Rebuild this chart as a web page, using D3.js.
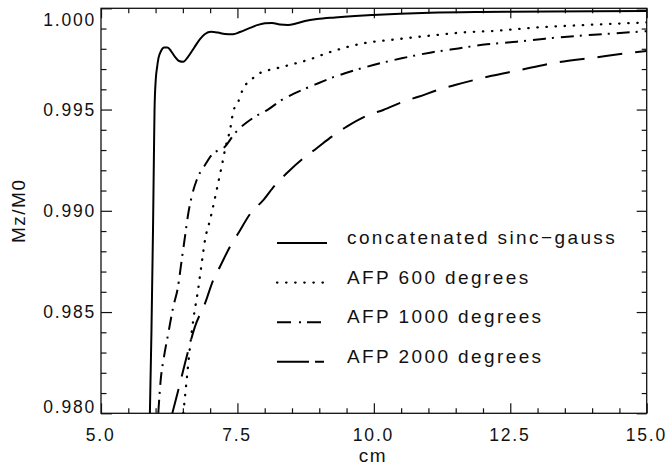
<!DOCTYPE html>
<html><head><meta charset="utf-8">
<script src="https://cdn.jsdelivr.net/npm/d3@7"></script>
<style>
html,body{margin:0;padding:0;background:#fff;}
svg{display:block;font-family:"Liberation Sans",Arial,Helvetica,sans-serif;}
</style></head><body>
<svg id="chart" width="669" height="465"></svg>
<script>
// ---------- data ----------
const xTicks = [5.0, 7.5, 10.0, 12.5, 15.0];
const yTicks = [0.980, 0.985, 0.990, 0.995, 1.000];
const xLabel = "cm";
const yLabel = "Mz/M0";
const seriesNames = ["concatenated sinc\u2212gauss", "AFP 600 degrees", "AFP 1000 degrees", "AFP 2000 degrees"];

const sincGaussX = [5.896,5.925,5.953,5.971,5.981,6.003,6.026,6.054,6.10,6.155,6.219,6.283,6.356,6.429,6.508,6.594,6.704,6.814,6.906,7.016,7.144,7.272,7.419,7.547,7.73,7.877,8.005,8.134,8.28,8.427,8.573,8.738,8.958,9.288,9.655,9.984,10.479,11.029,11.945,13.228,15.0];
const sincGaussY = [0.98000,0.98411,0.98905,0.99300,0.99498,0.99646,0.99705,0.99755,0.99789,0.99806,0.99806,0.99789,0.99760,0.99740,0.99736,0.99760,0.99804,0.99848,0.99873,0.99884,0.99880,0.99873,0.99872,0.99883,0.99903,0.99918,0.99926,0.99927,0.99920,0.99918,0.99925,0.99937,0.99947,0.99955,0.99962,0.99967,0.99973,0.99978,0.99982,0.99984,0.99987];

const afp600X = [6.508,6.570,6.631,6.691,6.783,6.845,6.906,6.998,7.047,7.12,7.223,7.285,7.364,7.424,7.516,7.608,7.749,7.883,8.036,8.22,8.524,8.83,9.136,9.319,9.807,10.419,11.029,11.639,12.251,12.922,13.594,14.266,15.0];
const afp600Y = [0.98000,0.98165,0.98329,0.98461,0.98617,0.98741,0.98856,0.98955,0.99012,0.99103,0.99235,0.99317,0.99399,0.99490,0.99539,0.99605,0.99646,0.99676,0.99692,0.99704,0.99725,0.99748,0.99778,0.99794,0.99827,0.99847,0.99865,0.99881,0.99889,0.99904,0.99914,0.99922,0.99930];

const afp1000X = [6.05,6.094,6.155,6.233,6.325,6.406,6.479,6.539,6.6,6.662,6.754,6.814,6.906,7.028,7.272,7.455,7.804,8.066,8.293,8.524,8.757,8.982,9.246,9.471,9.99,10.51,11.029,11.548,12.068,12.618,13.137,13.687,14.236,15.0];
const afp1000Y = [0.98002,0.98165,0.98280,0.98395,0.98527,0.98617,0.98757,0.98872,0.98988,0.99070,0.99152,0.99188,0.99226,0.99276,0.99317,0.99383,0.99462,0.99501,0.99544,0.99577,0.99605,0.99630,0.99659,0.99679,0.99720,0.99753,0.99781,0.99802,0.99822,0.99835,0.99850,0.99863,0.99873,0.99887];

const afp2000X = [6.307,6.417,6.539,6.722,6.906,7.057,7.18,7.364,7.516,7.731,7.974,8.189,8.432,8.707,8.953,9.228,9.503,9.898,10.173,10.54,10.815,11.212,11.487,11.885,12.16,12.618,13.32,14.021,14.725,15.0];
const afp2000Y = [0.98000,0.98115,0.98247,0.98428,0.98543,0.98658,0.98724,0.98823,0.98889,0.98984,0.99053,0.99127,0.99193,0.99259,0.99309,0.99366,0.99416,0.99473,0.99498,0.99539,0.99563,0.99600,0.99621,0.99649,0.99667,0.99692,0.99731,0.99756,0.99781,0.99789];

// ---------- layout / style ----------
const W = 669, H = 465;
const M = {left: 101, right: 22.3, top: 8.3, bottom: 51.7};
const iw = W - M.left - M.right, ih = H - M.top - M.bottom;
const ink = "#111";

const styles = [
  {dash: null, legendDash: null, width: 2, cap: "butt"},
  {dash: "0.4,8.7", legendDash: "0.4,8.7", width: 2.3, cap: "round"},
  {dash: "13,6,2,7", legendDash: "14,8,2,6,14,20", width: 2, cap: "butt"},
  {dash: "25,13", legendDash: "32,6,9,20", width: 2, cap: "butt"}
];

const series = [
  d3.zip(sincGaussX, sincGaussY),
  d3.zip(afp600X, afp600Y),
  d3.zip(afp1000X, afp1000Y),
  d3.zip(afp2000X, afp2000Y)
];

const svg = d3.select("#chart");
svg.append("rect").attr("width", W).attr("height", H).attr("fill", "#fff");

const x = d3.scaleLinear().domain([5, 15]).range([M.left, M.left + iw]);
const y = d3.scaleLinear().domain([0.98, 1.0]).range([M.top + ih, M.top]);

svg.append("defs").append("clipPath").attr("id", "clip")
  .append("rect").attr("x", M.left).attr("y", M.top).attr("width", iw).attr("height", ih);

const xMinor = d3.range(5, 15.001, 0.5).filter(v => Math.abs((v / 2.5) - Math.round(v / 2.5)) > 1e-6);
const yMinor = d3.range(0, 21).map(i => 0.98 + i * 0.001).filter(v => Math.abs(v * 200 - Math.round(v * 200)) > 1e-6);

function styleAxis(g) {
  g.select(".domain").remove();
  g.selectAll(".tick line").attr("stroke", ink).attr("stroke-width", 1.2);
  g.selectAll("text").attr("fill", ink).attr("font-size", "17.5px").attr("letter-spacing", "1.8px")
    .attr("font-family", "'Liberation Sans', Arial, sans-serif");
}

// bottom axis
const gB = svg.append("g").attr("transform", `translate(0,${M.top + ih})`)
  .call(d3.axisBottom(x).tickValues(xTicks).tickFormat(d3.format(".1f")).tickSizeInner(-10).tickSizeOuter(0).tickPadding(15));
styleAxis(gB);
gB.selectAll("text").attr("dx", "-0.9px");
const gBm = svg.append("g").attr("transform", `translate(0,${M.top + ih})`)
  .call(d3.axisBottom(x).tickValues(xMinor).tickFormat("").tickSizeInner(-5).tickSizeOuter(0));
styleAxis(gBm);
// top axis
const gT = svg.append("g").attr("transform", `translate(0,${M.top})`)
  .call(d3.axisBottom(x).tickValues(xTicks).tickFormat("").tickSizeInner(10).tickSizeOuter(0));
styleAxis(gT);
const gTm = svg.append("g").attr("transform", `translate(0,${M.top})`)
  .call(d3.axisBottom(x).tickValues(xMinor).tickFormat("").tickSizeInner(5).tickSizeOuter(0));
styleAxis(gTm);
// left axis
const gL = svg.append("g").attr("transform", `translate(${M.left},0)`)
  .call(d3.axisLeft(y).tickValues(yTicks).tickFormat(d3.format(".3f")).tickSizeInner(-11).tickSizeOuter(0).tickPadding(5));
styleAxis(gL);
gL.selectAll(".tick text").attr("dy", d => (d >= 0.9999 ? "1.0em" : d <= 0.9801 ? "-0.05em" : "0.32em"));
const gLm = svg.append("g").attr("transform", `translate(${M.left},0)`)
  .call(d3.axisLeft(y).tickValues(yMinor).tickFormat("").tickSizeInner(-5.5).tickSizeOuter(0));
styleAxis(gLm);
// right axis
const gR = svg.append("g").attr("transform", `translate(${M.left + iw},0)`)
  .call(d3.axisLeft(y).tickValues(yTicks).tickFormat("").tickSizeInner(10).tickSizeOuter(0));
styleAxis(gR);
const gRm = svg.append("g").attr("transform", `translate(${M.left + iw},0)`)
  .call(d3.axisLeft(y).tickValues(yMinor).tickFormat("").tickSizeInner(5).tickSizeOuter(0));
styleAxis(gRm);

// frame
svg.append("rect").attr("x", M.left).attr("y", M.top).attr("width", iw).attr("height", ih)
  .attr("fill", "none").attr("stroke", ink).attr("stroke-width", 1.3);

// curves
const line = d3.line().x(d => x(d[0])).y(d => y(d[1])).curve(d3.curveMonotoneX);
const gC = svg.append("g").attr("clip-path", "url(#clip)");
series.forEach((s, i) => {
  gC.append("path").datum(s).attr("d", line)
    .attr("fill", "none").attr("stroke", "#000")
    .attr("stroke-width", styles[i].width)
    .attr("stroke-linecap", styles[i].cap)
    .attr("stroke-linejoin", "round")
    .attr("stroke-dasharray", styles[i].dash);
});

// legend
const leg = svg.append("g").attr("transform", "translate(277,244)");
seriesNames.forEach((name, i) => {
  const r = leg.append("g").attr("transform", `translate(0,${i * 39.6})`);
  r.append("line").attr("x1", 0).attr("x2", 50).attr("y1", -1).attr("y2", -1)
    .attr("stroke", "#000").attr("stroke-width", styles[i].width)
    .attr("stroke-linecap", styles[i].cap)
    .attr("stroke-dasharray", styles[i].legendDash);
  r.append("text").attr("x", 70).attr("y", 0).text(name)
    .attr("font-size", "19px").attr("letter-spacing", "2.4px").attr("fill", ink);
});

// axis titles
svg.append("text").attr("x", x(10) - 1).attr("y", 462).attr("text-anchor", "middle")
  .attr("font-size", "19px").attr("letter-spacing", "1.5px").attr("fill", ink).text(xLabel);
svg.append("text").attr("transform", `translate(25,${(M.top + M.top + ih) / 2}) rotate(-90)`)
  .attr("text-anchor", "middle").attr("font-size", "19px").attr("letter-spacing", "1.5px")
  .attr("fill", ink).text(yLabel);
</script>
</body></html>
